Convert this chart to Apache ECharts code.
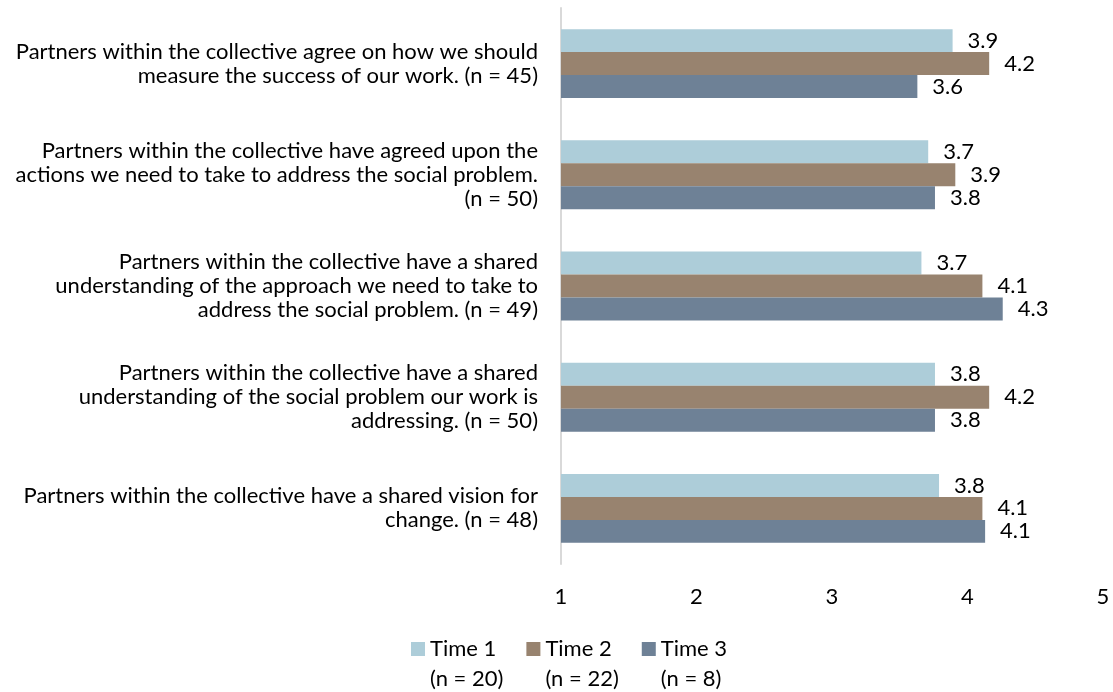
<!DOCTYPE html>
<html>
<head>
<meta charset="utf-8">
<script src="https://cdn.jsdelivr.net/npm/echarts@6/dist/echarts.min.js"></script>
<style>html,body{margin:0;padding:0;background:#fff;}#c{width:1113px;height:692px;}</style>
</head>
<body>
<div id="c"></div>
<script>
var categories = [
  "Partners within the collective agree on how we should\nmeasure the success of our work. (n = 45)",
  "Partners within the collective have agreed upon the\nactions we need to take to address the social problem.\n(n = 50)",
  "Partners within the collective have a shared\nunderstanding of the approach we need to take to\naddress the social problem. (n = 49)",
  "Partners within the collective have a shared\nunderstanding of the social problem our work is\naddressing. (n = 50)",
  "Partners within the collective have a shared vision for\nchange. (n = 48)"
];
var seriesNames = ["Time 1\n(n = 20)", "Time 2\n(n = 22)", "Time 3\n(n = 8)"];
var time1 = [3.89, 3.71, 3.66, 3.76, 3.79];
var time2 = [4.16, 3.91, 4.11, 4.16, 4.11];
var time3 = [3.63, 3.76, 4.26, 3.76, 4.13];
var xTicks = [1, 2, 3, 4, 5];
var colors = ["#adcdd9", "#98836f", "#6e8196"];

var FONT = "Lato";
var FS = 22;
var chart = echarts.init(document.getElementById('c'));
var values = [time1, time2, time3];
var legendIcon = 'path://M0,0L14,0L14,14L0,14Z M0,44L0.01,44L0.01,44.01Z';
chart.setOption({
  animation: false,
  grid: { left: 561, right: 10, top: 8, bottom: 128, containLabel: false },
  xAxis: {
    type: 'value', min: xTicks[0], max: xTicks[xTicks.length - 1], interval: 1,
    axisLine: { show: false }, axisTick: { show: false }, splitLine: { show: false },
    axisLabel: { margin: 22, color: '#000', fontSize: FS, fontFamily: FONT }
  },
  yAxis: {
    type: 'category', data: categories, inverse: true,
    axisLine: { show: true, lineStyle: { color: '#d9d9d9', width: 2 } },
    axisTick: { show: false },
    axisLabel: { margin: 23, color: '#000', fontSize: FS, fontFamily: FONT, lineHeight: 24, align: 'right' }
  },
  legend: {
    left: 411, top: 634, padding: 0, itemWidth: 14, itemHeight: 44, itemGap: 23,
    icon: legendIcon,
    textStyle: { color: '#000', fontSize: FS, fontFamily: FONT, lineHeight: 30 },
    data: seriesNames
  },
  series: seriesNames.map(function (n, i) {
    return {
      name: n, type: 'bar', data: values[i],
      barGap: '0%', barCategoryGap: '38%',
      itemStyle: { color: colors[i] },
      label: {
        show: true, position: 'right', distance: 15, color: '#000', fontSize: FS, fontFamily: FONT,
        formatter: function (p) { return p.value.toFixed(1); }
      }
    };
  })
});
</script>
</body>
</html>
